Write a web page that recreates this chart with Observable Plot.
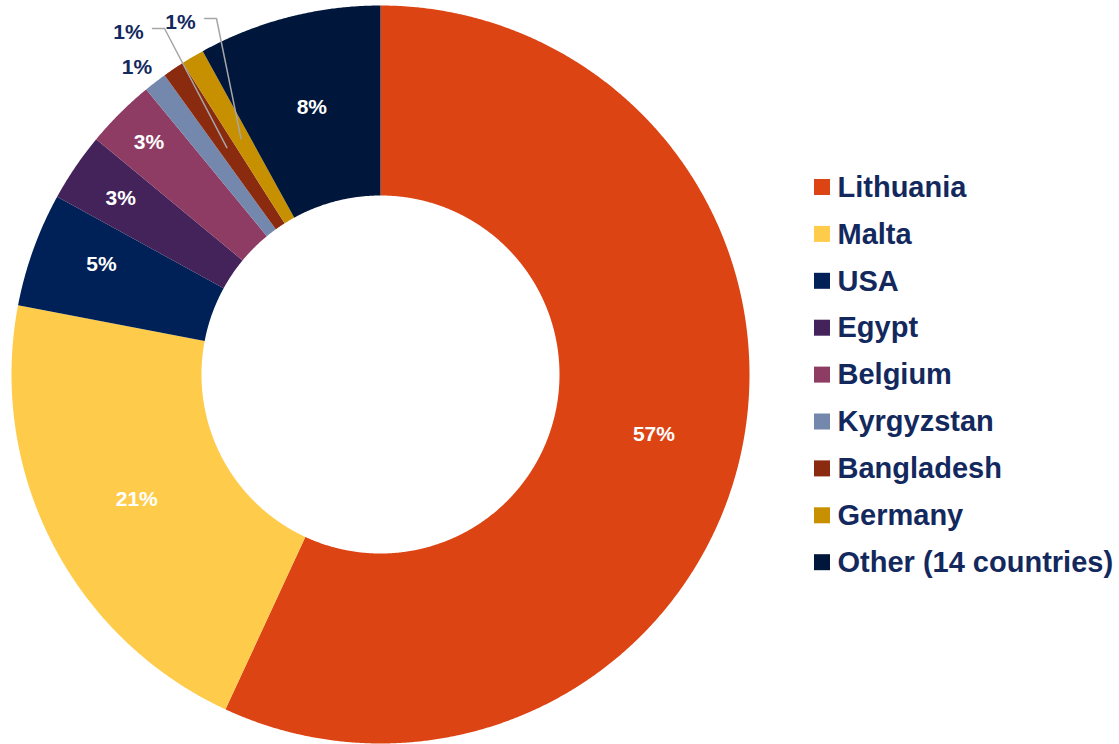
<!DOCTYPE html>
<html><head><meta charset="utf-8">
<script src="https://cdn.jsdelivr.net/npm/d3@7"></script>
<script src="https://cdn.jsdelivr.net/npm/@observablehq/plot@0.6"></script>
<style>body{margin:0;background:#fff} svg{display:block}</style>
</head><body><div id="chart"></div>
<script>
// ---- data ----
const countries = ["Lithuania","Malta","USA","Egypt","Belgium","Kyrgyzstan","Bangladesh","Germany","Other (14 countries)"];
const shares = [56.9, 21.1, 5.0, 3.0, 3.05, 1.0, 0.95, 1.0, 8.0];
const labels = ["57%","21%","5%","3%","3%","1%","1%","1%","8%"];
const colors = ["#DD4414","#FECC4A","#002157","#44235B","#8E3C63","#7488AE","#8A2A0E","#C69000","#00163A"];

// ---- layout ----
const W = 1119, H = 744, CX = 380, CY = 374;
const R_OUT = 369, R_IN = 179, R_MID = (R_OUT + R_IN) / 2;
const labelRadius = [280, R_MID, 300, 314, 328, 392, null, null, R_MID + 2];
const labelShift = [0, 0, 1.7, 0, 0, -0.8, 0, 0, 0]; // degrees
const callouts = {6: {x: -252, y: 342}, 7: {x: -200, y: 352}};
const NAVY = "#13295E";

const total = d3.sum(shares);
let acc = 0;
const slices = countries.map((c, i) => {
  const a0 = acc / total * 2 * Math.PI; acc += shares[i];
  const a1 = acc / total * 2 * Math.PI;
  return {country: c, i, a0, a1, mid: (a0 + a1) / 2};
});
const pt = (a, r) => ({x: r * Math.sin(a), y: r * Math.cos(a)});

const poly = [];
for (const s of slices) {
  const n = Math.max(2, Math.ceil((s.a1 - s.a0) / (Math.PI / 720)));
  for (let k = 0; k <= n; k++) poly.push({country: s.country, ...pt(s.a0 + (s.a1 - s.a0) * k / n, R_OUT)});
  for (let k = n; k >= 0; k--) poly.push({country: s.country, ...pt(s.a0 + (s.a1 - s.a0) * k / n, R_IN)});
}

const inLabels = [], outLabels = [], leaders = [];
for (const s of slices) {
  if (callouts[s.i]) {
    const c = callouts[s.i];
    outLabels.push({text: labels[s.i], x: c.x, y: c.y});
    const cen = pt(s.mid, R_MID);
    leaders.push({id: s.i, x: c.x + 24, y: c.y + 4});
    leaders.push({id: s.i, x: c.x + 36, y: c.y + 4});
    leaders.push({id: s.i, x: cen.x, y: cen.y});
  } else {
    const p = pt(s.mid + labelShift[s.i] * Math.PI / 180, labelRadius[s.i]);
    (labelRadius[s.i] > R_OUT ? outLabels : inLabels).push({text: labels[s.i], ...p});
  }
}

const legend = countries.map((c, i) => ({country: c, y: CY - (187 + 46.9 * i)}));
const LX = 814 - CX;

const chart = Plot.plot({
  width: W, height: H,
  margin: 0,
  x: {domain: [-CX, W - CX], axis: null},
  y: {domain: [-(H - CY), CY], axis: null},
  color: {domain: countries, range: colors},
  style: {background: "#fff", fontFamily: "'Liberation Sans', Arial, sans-serif", overflow: "visible"},
  marks: [
    Plot.line(poly, {x: "x", y: "y", z: "country", fill: "country", stroke: "none", curve: "linear-closed"}),
    Plot.line(leaders, {x: "x", y: "y", z: "id", stroke: "#A6A6A6", strokeWidth: 1.5}),
    Plot.text(inLabels, {x: "x", y: "y", text: "text", fill: "white", fontSize: 21, fontWeight: "bold"}),
    Plot.text(outLabels, {x: "x", y: "y", text: "text", fill: NAVY, fontSize: 21, fontWeight: "bold"}),
    Plot.rect(legend, {x1: LX, x2: LX + 16, y1: d => d.y - 8, y2: d => d.y + 8, fill: "country"}),
    Plot.text(legend, {x: LX + 23, y: "y", text: "country", textAnchor: "start", fill: NAVY, fontSize: 29, fontWeight: "bold"})
  ]
});
document.getElementById("chart").appendChild(chart);
</script>
</body></html>
